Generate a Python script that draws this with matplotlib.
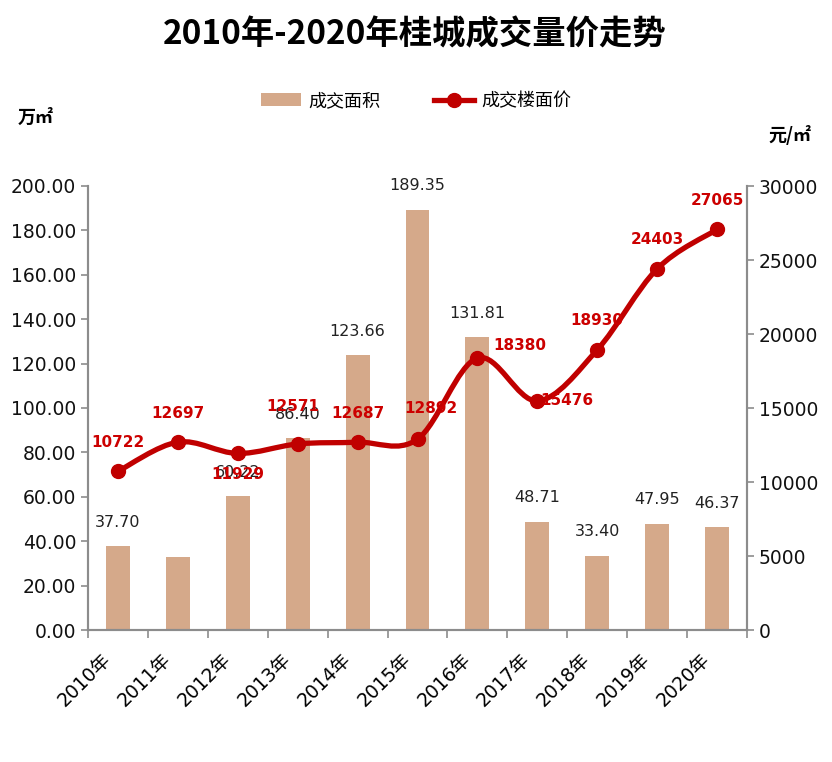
import matplotlib as mpl
import matplotlib.pyplot as plt
import matplotlib.transforms as mtransforms
from matplotlib.path import Path
from matplotlib.patches import PathPatch, Patch
from matplotlib.lines import Line2D
from matplotlib.ticker import FormatStrFormatter

mpl.rcParams['font.family'] = ['DejaVu Sans', 'Noto Sans CJK SC']
cjk = ['Noto Sans CJK SC', 'DejaVu Sans']

years = ['2010年', '2011年', '2012年', '2013年', '2014年', '2015年',
         '2016年', '2017年', '2018年', '2019年', '2020年']
area = [37.70, 32.90, 60.22, 86.40, 123.66, 189.35, 131.81, 48.71, 33.40, 47.95, 46.37]
area_labels = ['37.70', '', '60.22', '86.40', '123.66', '189.35', '131.81',
               '48.71', '33.40', '47.95', '46.37']
price = [10722, 12697, 11929, 12571, 12687, 12892, 18380, 15476, 18930, 24403, 27065]

bar_color = '#D5A98A'
line_color = '#C00000'
label_red = '#CC0000'
axis_gray = '#8C8C8C'

fig = plt.figure(figsize=(8.32, 7.62), dpi=100)
ax1 = fig.add_axes([88 / 832, 1 - 630 / 762, (747 - 88) / 832, (630 - 186) / 762])
ax2 = ax1.twinx()

x = list(range(len(years)))
ax1.bar(x, area, width=0.4, color=bar_color, zorder=2)
ax1.set_xlim(-0.5, len(years) - 0.5)
ax1.set_ylim(0, 200)
ax1.set_yticks(range(0, 201, 20))
ax1.yaxis.set_major_formatter(FormatStrFormatter('%.2f'))
ax2.set_ylim(0, 30000)
ax2.set_yticks(range(0, 30001, 5000))

# bar value labels
for xi, v, s in zip(x, area, area_labels):
    if s:
        ax1.annotate(s, (xi, v), xytext=(0, 24), textcoords='offset pixels',
                     ha='center', va='center', fontsize=11.5, color='#222222')

# smoothed price line (Catmull-Rom as cubic bezier)
verts = [(x[0], price[0])]
codes = [Path.MOVETO]
n = len(price)
for i in range(n - 1):
    p0 = (x[max(i - 1, 0)], price[max(i - 1, 0)])
    p1 = (x[i], price[i])
    p2 = (x[i + 1], price[i + 1])
    p3 = (x[min(i + 2, n - 1)], price[min(i + 2, n - 1)])
    c1 = (p1[0] + (p2[0] - p0[0]) / 6, p1[1] + (p2[1] - p0[1]) / 6)
    c2 = (p2[0] - (p3[0] - p1[0]) / 6, p2[1] - (p3[1] - p1[1]) / 6)
    verts += [c1, c2, p2]
    codes += [Path.CURVE4] * 3
ax2.add_patch(PathPatch(Path(verts, codes), facecolor='none', edgecolor=line_color,
                        lw=3.8, capstyle='round', zorder=3))
ax2.plot(x, price, linestyle='none', marker='o', markersize=10,
         color=line_color, zorder=4)

# price labels (pixel offsets)
offsets = [(0, 29), (0, 29), (0, -21), (-5, 37), (0, 29), (13, 31),
           (42, 12), (30, 0), (0, 29), (0, 29), (0, 29)]
for xi, v, off in zip(x, price, offsets):
    ax2.annotate(f'{v}', (xi, v), xytext=off, textcoords='offset pixels',
                 ha='center', va='center', fontsize=11, fontweight='bold',
                 color=label_red, zorder=5)

# axes styling
for ax in (ax1, ax2):
    ax.spines['top'].set_visible(False)
    for side in ('left', 'right', 'bottom'):
        ax.spines[side].set_color(axis_gray)
        ax.spines[side].set_linewidth(1.5)
ax1.tick_params(axis='y', colors=axis_gray, labelcolor='#111111', labelsize=13.5,
                length=5, width=1.2)
ax2.tick_params(axis='y', colors=axis_gray, labelcolor='#111111', labelsize=13.5,
                length=5, width=1.2)
ax1.set_xticks(x)
ax1.set_xticks([i - 0.5 for i in range(len(years) + 1)], minor=True)
ax1.set_xticklabels(years, rotation=45, ha='right', va='center',
                    rotation_mode='anchor', fontsize=13.5)
ax1.tick_params(axis='x', which='major', length=0, pad=19)
ax1.tick_params(axis='x', which='minor', length=6, width=1.2, colors=axis_gray)
shift = mtransforms.ScaledTranslation(-10 / 100, 0, fig.dpi_scale_trans)
for lbl in ax1.get_xticklabels():
    lbl.set_transform(lbl.get_transform() + shift)

# legend
handles = [Patch(facecolor=bar_color, edgecolor='none', label='成交面积'),
           Line2D([0], [0], color=line_color, lw=3.8, marker='o', markersize=10,
                  label='成交楼面价')]
fig.legend(handles=handles, loc='center', bbox_to_anchor=(416 / 832, 1 - 101 / 762),
           ncol=2, frameon=False, prop={'family': cjk, 'size': 13},
           handlelength=2.2, handletextpad=0.4, columnspacing=3.0)

fig.text(415 / 832, 1 - 35 / 762, '2010年-2020年桂城成交量价走势', ha='center',
         va='center', fontsize=24, fontweight='bold', family=cjk)
fig.text(18 / 832, 1 - 117 / 762, '万㎡', ha='left', va='center', fontsize=13,
         fontweight='bold', family=cjk)
fig.text(768 / 832, 1 - 135 / 762, '元/㎡', ha='left', va='center', fontsize=13,
         fontweight='bold', family=cjk)

fig.savefig('out.png', dpi=100)
